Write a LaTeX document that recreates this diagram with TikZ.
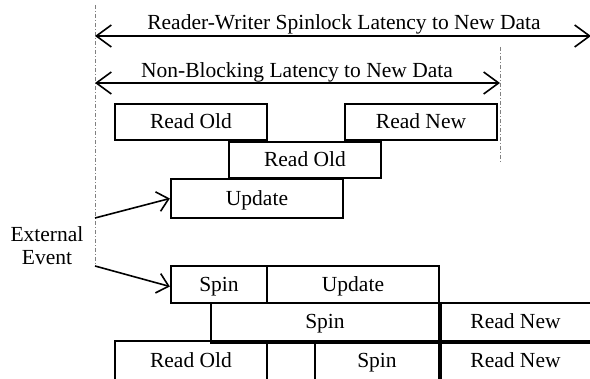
\documentclass[tikz,border=0pt]{standalone}
\usepackage{fontspec}
\setmainfont{Liberation Serif}
\usetikzlibrary{arrows.meta,fit}
\tikzset{
  box/.style={draw, line width=2.3pt, inner sep=0pt},
  lbl/.style={text height=14pt, text depth=0pt, inner sep=0pt},
  span/.style={line width=1.6pt,
    {Straight Barb[length=15pt,width=22pt]}-{Straight Barb[length=15pt,width=22pt]}},
  guide/.style={gray, line width=0.8pt, dash pattern=on 4pt off 2pt on 1pt off 2pt},
  evt/.style={line width=1.6pt, -{Straight Barb[length=11pt,width=20pt]}},
  heavy/.style={line width=4pt},
}
% one timeline slot: name, x1, y1, x2, y2, text
\newcommand\slot[6]{\node[box, fit={(#2,#3) (#4,#5)}, label={[lbl]center:#6}] (#1) {};}
\begin{document}
\begin{tikzpicture}[x=1pt,y=-1pt,font=\fontsize{21.5pt}{25pt}\selectfont]
\useasboundingbox (0,0) rectangle (590,379);
\clip (0,0) rectangle (590,379);

% guide lines
\coordinate (gl0) at (95,5);   \coordinate (gl1) at (95,265);
\draw[guide] (gl0) -- (gl1);
\coordinate (gr0) at (500,47); \coordinate (gr1) at (500,162);
\draw[guide] (gr0) -- (gr1);

% latency spans
\coordinate (a1) at (95,36); \coordinate (b1) at (591,36);
\draw[span] (a1) -- (b1);
\node[anchor=base] (t1) at (344,30) {Reader-Writer Spinlock Latency to New Data};
\coordinate (a2) at (95,83); \coordinate (b2) at (500,83);
\draw[span] (a2) -- (b2);
\node[anchor=base] (t2) at (297,78) {Non-Blocking Latency to New Data};

% non-blocking timeline
\slot{ro1}{115}{104}{267}{140}{Read Old}
\slot{rn1}{345}{104}{497}{140}{Read New}
\slot{ro2}{229}{142}{381}{178}{Read Old}
\slot{up3}{171}{179}{343}{218}{Update}

% spinlock timeline
\slot{sp4}{171}{266}{267}{303}{Spin}
\slot{up4}{267}{266}{439}{303}{Update}
\slot{sp5}{211}{303}{439}{341}{Spin}
\slot{rn5}{439}{303}{592}{341}{Read New}
\slot{ro6}{115}{341}{267}{381}{Read Old}
\slot{sp6}{315}{341}{439}{381}{Spin}
\slot{rn6}{439}{341}{592}{381}{Read New}
\draw[heavy] (sp5.north east) -- (sp6.south east);
\draw[heavy] (sp5.south west) -- (rn5.south east);

% external event
\node[anchor=base] (ext1) at (47,242) {External};
\node[anchor=base] (ext2) at (47,265) {Event};
\coordinate (e1) at (95,218); \coordinate (e2) at (95,266);
\draw[evt] (e1) -- (up3.west);
\draw[evt] (e2) -- ([yshift=-2pt]sp4.west);
\end{tikzpicture}
\end{document}
